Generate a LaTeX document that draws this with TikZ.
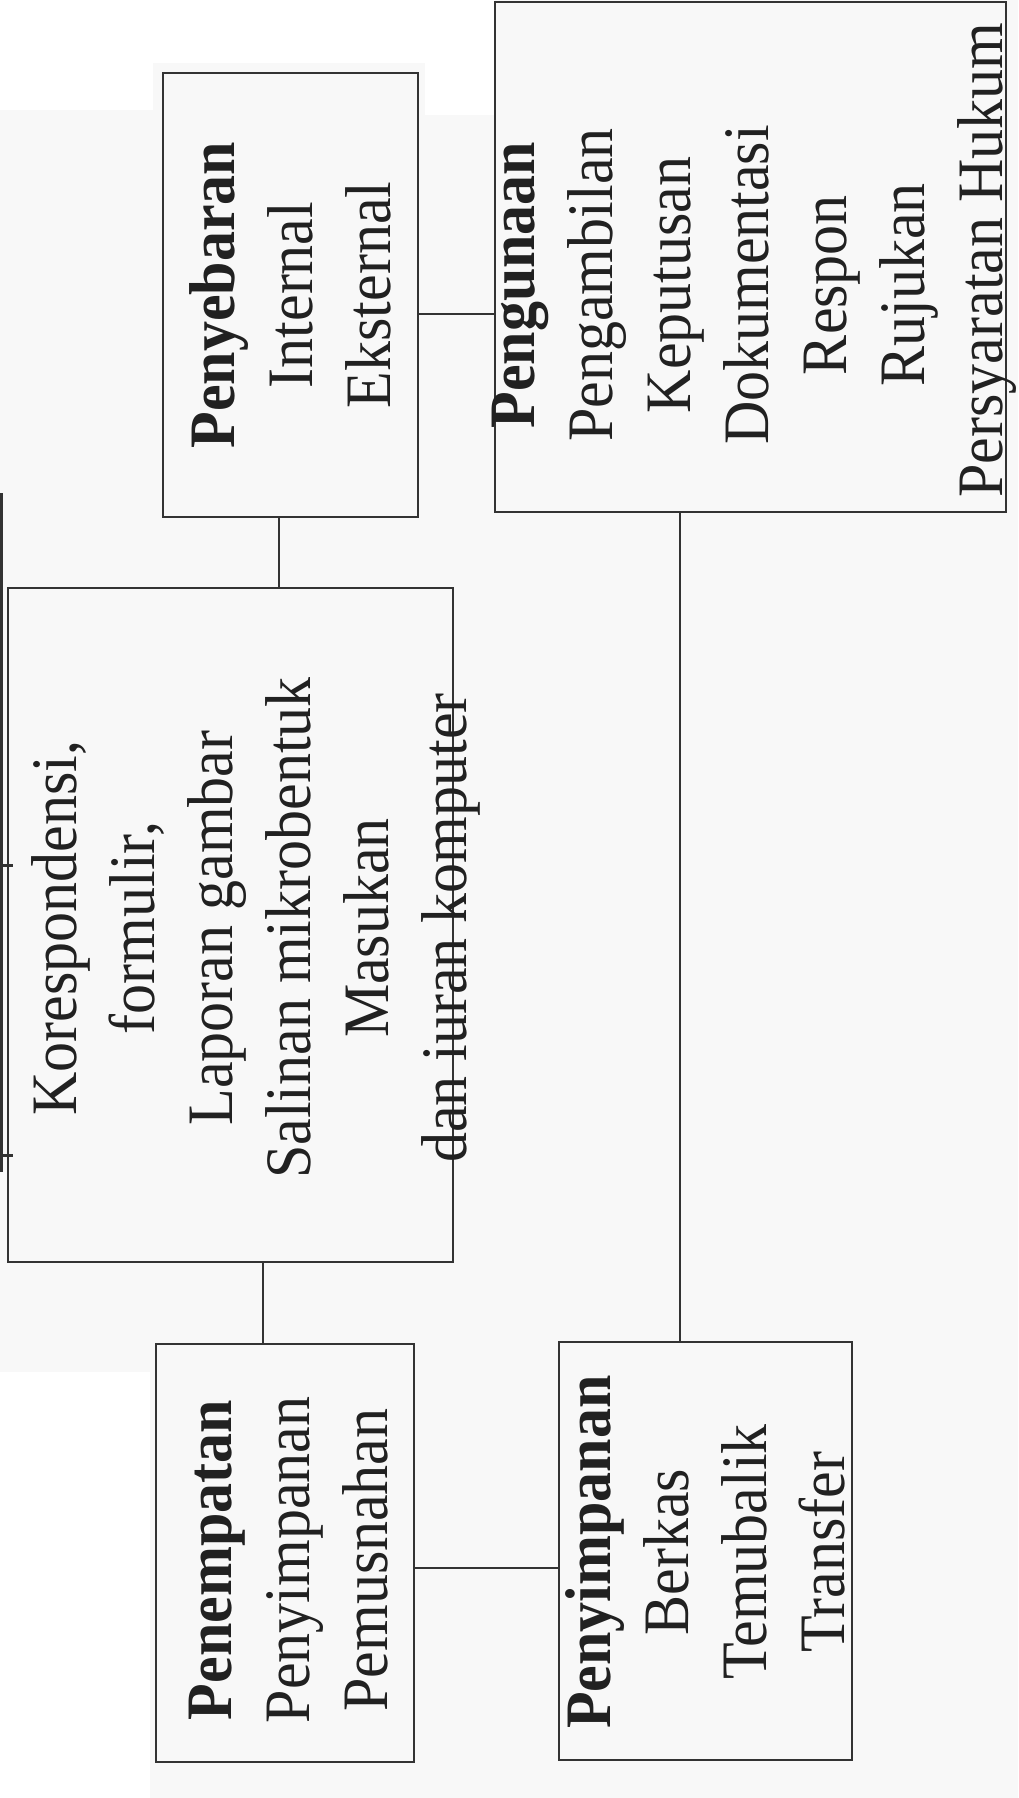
\documentclass[tikz,border=0pt]{standalone}
\usepackage{fontspec}
\setmainfont{Liberation Serif}
\usepackage{graphicx}
\definecolor{bg}{gray}{0.972}
\definecolor{ink}{gray}{0.13}
\definecolor{lineink}{gray}{0.2}
\newcommand{\txtblk}[1]{\scalebox{1}[1.08]{\fontsize{30}{36.1}\selectfont\begin{tabular}[b]{@{}c@{}}#1\end{tabular}}}
\tikzset{
  box/.style={draw=lineink, line width=1.1pt, inner sep=0pt, rectangle},
  conn/.style={draw=lineink, line width=1.1pt},
  txt/.style={rotate=90, anchor=base, inner sep=0pt, text=ink},
  frag/.style={draw=lineink, line width=1.5pt}
}
\begin{document}
\begin{tikzpicture}[x=0.5pt, y=0.5pt]
\useasboundingbox (0,0) rectangle (1018,-1798);
\fill[bg] (0,0) rectangle (1018,-1798);
% whiter scan patches
\fill[white] (0,0) rectangle (153,-110);
\fill[white] (153,0) rectangle (425,-63);
\fill[white] (425,0) rectangle (495,-115);
\fill[white] (0,-1372) rectangle (150,-1798);

% boxes
\node[box, minimum width=127.5pt, minimum height=222pt] (pyb) at (290.5,-295) {};
\node[box, minimum width=255.5pt, minimum height=255pt] (pgn) at (750.5,-257) {};
\node[box, minimum width=222.5pt, minimum height=337pt] (cen) at (230.5,-925) {};
\node[box, minimum width=129pt, minimum height=209pt] (pnt) at (285,-1553) {};
\node[box, minimum width=146.5pt, minimum height=209pt] (psp) at (705.5,-1551) {};

% helper coordinates for connector positions
\coordinate (v1) at (279,0);
\coordinate (h2) at (0,-314);
\coordinate (v3) at (263,0);
\coordinate (h4) at (0,-1568);
\coordinate (v5) at (680,0);

% connectors
\draw[conn] (pyb.south -| v1) -- (cen.north -| v1);
\draw[conn] (pyb.east |- h2) -- (pgn.west |- h2);
\draw[conn] (cen.south -| v3) -- (pnt.north -| v3);
\draw[conn] (pnt.east |- h4) -- (psp.west |- h4);
\draw[conn] (pgn.south -| v5) -- (psp.north -| v5);

% cut-off fragments at the left edge
\coordinate (f1) at (1,-493);
\coordinate (f2) at (1,-1172);
\draw[frag] (f1) -- (f2);
\coordinate (f3) at (0,-865);
\coordinate (f4) at (13,-865);
\coordinate (f5) at (0,-1155);
\coordinate (f6) at (13,-1155);
\draw[frag] (f3) -- (f4);
\draw[frag] (f5) -- (f6);

% texts
\node[txt] (tpyb) at (390,-295) {\txtblk{\textbf{Penyebaran}\\ Internal\\ Eksternal}};
\node[txt] (tpgn) at (1002,-285) {\txtblk{\textbf{Pengunaan}\\ Pengambilan\\ Keputusan\\ Dokumentasi\\ Respon\\ Rujukan\\ \hspace*{25pt}Persyaratan Hukum}};
\node[txt] (tcen) at (466,-928) {\txtblk{Korespondensi,\\ formulir,\\ Laporan gambar\\ Salinan mikrobentuk\\ Masukan\\ dan iuran komputer}};
\node[txt] (tpnt) at (387,-1560) {\txtblk{\textbf{Penempatan}\\ Penyimpanan\\ Pemusnahan}};
\node[txt] (tpsp) at (844,-1552) {\txtblk{\textbf{Penyimpanan}\\ Berkas\\ Temubalik\\ Transfer}};
\end{tikzpicture}
\end{document}
